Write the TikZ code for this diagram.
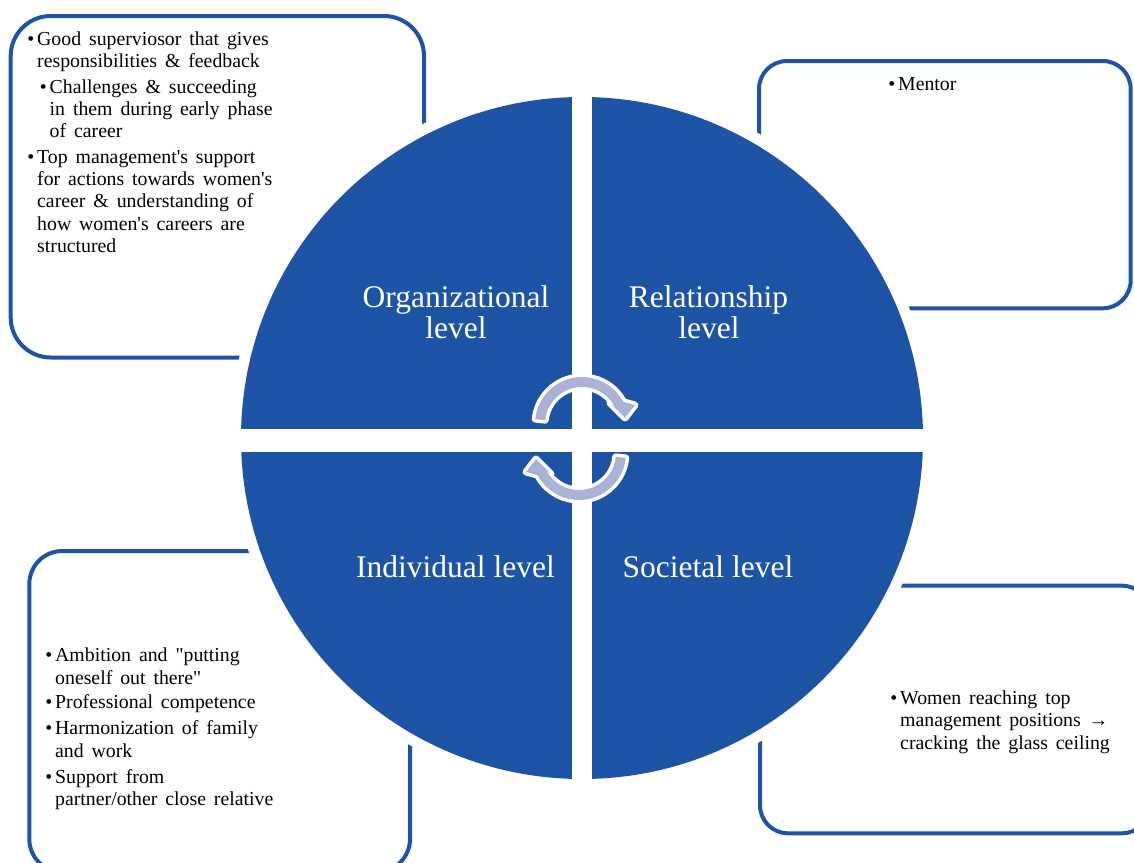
\documentclass[tikz,border=0pt]{standalone}
\usepackage{fontspec}
\setmainfont{Liberation Serif}[Ligatures=TeXOff]
\definecolor{qblue}{RGB}{30,84,165}
\definecolor{lav}{RGB}{170,178,214}
\newcommand{\bul}{\llap{\textbullet\hspace{3pt}}}
\newcommand{\boxtextfont}{\fontsize{19.8}{22}\selectfont\spaceskip=0.4em\relax}
\begin{document}
\begin{tikzpicture}[x=1pt,y=-1pt,
  txt/.style={anchor=base west, inner sep=0, font=\boxtextfont},
  lab/.style={anchor=base, inner sep=0, text=white, font=\fontsize{31.5}{30}\selectfont},
  box/.style={draw=qblue, line width=4, fill=white},
  arrowsty/.style={fill=lav, preaction={draw=white, line width=7, line join=round}}]
\path[use as bounding box] (0,0) rectangle (1134,862);
\clip (0,0) rectangle (1134,862);
% outer boxes
\path[box, rounded corners=40] (10.7,16) rectangle (424,357.5);
\path[box, rounded corners=28] (759,61) rectangle (1130.7,308.3);
\path[box, rounded corners=33] (29.3,551) rectangle (410,872);
\path[box, rounded corners=28] (760,585.7) rectangle (1150,833.3);
% white ring around the circle
\draw[white, line width=11] (582,438) circle[radius=346.5];
% four quadrants
\begin{scope}
  \clip (582,438) circle[radius=341];
  \fill[qblue] (230,80) rectangle (572,428.5);
  \fill[qblue] (592,80) rectangle (940,428.5);
  \fill[qblue] (230,451.5) rectangle (572,800);
  \fill[qblue] (592,451.5) rectangle (940,800);
\end{scope}
% quadrant labels
\node[lab] (org1) at (456,307) {Organizational};
\node[lab] (org2) at (456,338) {level};
\node[lab] (rel1) at (708.5,307) {Relationship};
\node[lab] (rel2) at (709,338) {level};
\node[lab] (ind) at (455.5,577) {Individual level};
\node[lab] (soc) at (708,577) {Societal level};
% cycle arrows
\begin{scope}[shift={(582,424)}]
  \path[arrowsty] (186:47) arc[start angle=186, end angle=332, radius=47]
    -- (53,-19) -- (43,-6) -- (28,-21) -- (332:37)
    arc[start angle=332, end angle=186, radius=37] -- cycle;
\end{scope}
\begin{scope}[shift={(579,453)}, rotate=180]
  \path[arrowsty] (186:47) arc[start angle=186, end angle=332, radius=47]
    -- (53,-19) -- (43,-6) -- (28,-21) -- (332:37)
    arc[start angle=332, end angle=186, radius=37] -- cycle;
\end{scope}
% top-left box text
\node[txt] (tl1) at (37,45) {\bul Good superviosor that gives};
\node[txt] (tl2) at (37,67) {responsibilities \& feedback};
\node[txt] (tl3) at (49.5,93) {\bul Challenges \& succeeding};
\node[txt] (tl4) at (49.5,115) {in them during early phase};
\node[txt] (tl5) at (49.5,137) {of career};
\node[txt] (tl6) at (37,163) {\bul Top management's support};
\node[txt] (tl7) at (37,185) {for actions towards women's};
\node[txt] (tl8) at (37,207) {career \& understanding of};
\node[txt] (tl9) at (37,230) {how women's careers are};
\node[txt] (tl10) at (37,252) {structured};
% top-right box text
\node[txt] (tr1) at (898,90) {\bul Mentor};
% bottom-left box text
\node[txt] (bl1) at (55,661) {\bul Ambition and "putting};
\node[txt] (bl2) at (55,684) {oneself out there"};
\node[txt] (bl3) at (55,708) {\bul Professional competence};
\node[txt] (bl4) at (55,734) {\bul Harmonization of family};
\node[txt] (bl5) at (55,757) {and work};
\node[txt] (bl6) at (55,783) {\bul Support from};
\node[txt] (bl7) at (55,805) {partner/other close relative};
% bottom-right box text
\node[txt] (br1) at (900,704) {\bul Women reaching top};
\node[txt] (br2) at (900,726) {management positions →};
\node[txt] (br3) at (900,749) {cracking the glass ceiling};
\end{tikzpicture}
\end{document}
